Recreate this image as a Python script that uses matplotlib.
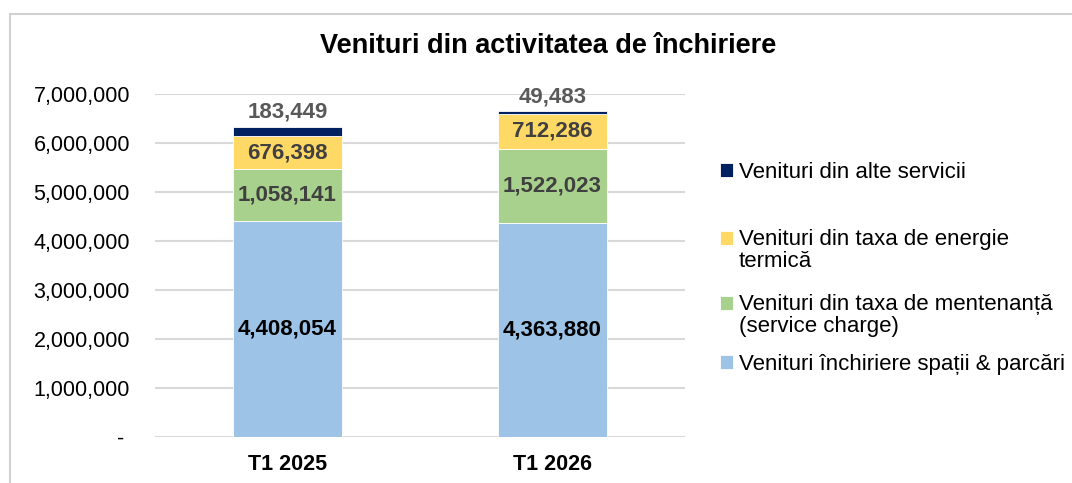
import matplotlib.pyplot as plt
from matplotlib.patches import Rectangle
from matplotlib.ticker import FuncFormatter
import numpy as np

plt.rcParams['font.family'] = ['Liberation Sans', 'DejaVu Sans']

periods = ['T1 2025', 'T1 2026']
inchiriere = [4408054, 4363880]
mentenanta = [1058141, 1522023]
energie = [676398, 712286]
alte = [183449, 49483]

series_names = ['Venituri închiriere spații & parcări',
                'Venituri din taxa de mentenanță\n(service charge)',
                'Venituri din taxa de energie\ntermică',
                'Venituri din alte servicii']
series_colors = ['#9DC3E6', '#A9D18E', '#FFD966', '#002060']
label_colors = ['black', '#404040', '#404040', '#595959']
yticks = [0, 1000000, 2000000, 3000000, 4000000, 5000000, 6000000, 7000000]


def fmt(v, pos):
    if v == 0:
        return '- '
    return '{:,.0f}'.format(v)


def main():
    W, H = 1072, 483
    fig = plt.figure(figsize=(W / 100, H / 100), dpi=100)
    ax = fig.add_axes([155 / W, 1 - 437 / H, 530 / W, 343 / H])

    # outer frame, cut off at right and bottom like the screenshot
    fig.patches.append(Rectangle((10 / W, -0.1), 1.2, 1 - 14 / H + 0.1,
                                 transform=fig.transFigure, fill=False,
                                 edgecolor='#D0D0D0', linewidth=1.5))

    x = np.arange(len(periods))
    data = [inchiriere, mentenanta, energie, alte]
    bottom = np.zeros(len(periods))
    handles = []
    for i, vals in enumerate(data):
        vals = np.array(vals, dtype=float)
        b = ax.bar(x, vals, width=0.415, bottom=bottom, color=series_colors[i],
                   edgecolor='white', linewidth=0.6, label=series_names[i], zorder=3)
        handles.append(b)
        for xi, v, bo in zip(x, vals, bottom):
            if i == 3:
                ax.annotate('{:,.0f}'.format(v), (xi, bo + v), xytext=(0, 3),
                            textcoords='offset points', ha='center', va='bottom',
                            fontsize=16, fontweight='bold', color=label_colors[i])
            else:
                ax.text(xi, bo + v / 2, '{:,.0f}'.format(v), ha='center', va='center',
                        fontsize=16, fontweight='bold', color=label_colors[i], zorder=4)
        bottom = bottom + vals

    ax.set_xlim(-0.5, 1.5)
    ax.set_ylim(0, 7000000)
    ax.set_yticks(yticks)
    ax.yaxis.set_major_formatter(FuncFormatter(fmt))
    ax.set_xticks(x)
    ax.set_xticklabels(periods, fontweight='bold')
    ax.tick_params(axis='both', length=0, labelsize=15.5)
    ax.tick_params(axis='y', pad=18)
    ax.tick_params(axis='x', pad=12)
    ax.yaxis.grid(color='#D9D9D9', linewidth=1.5, zorder=0)
    ax.set_axisbelow(True)
    for s in ax.spines.values():
        s.set_visible(False)

    fig.text(548 / W, 1 - 46 / H, 'Venituri din activitatea de închiriere',
             ha='center', va='center', fontsize=19.5, fontweight='bold')

    # one legend per entry, top series first, so the spacing can follow the original
    legend_tops = [162, 229, 294, 354]
    for k, i in enumerate(range(3, -1, -1)):
        leg = fig.legend([handles[i]], [series_names[i]], loc='upper left',
                         bbox_to_anchor=(720 / W, 1 - legend_tops[k] / H), frameon=False,
                         fontsize=16, handlelength=0.6, handleheight=0.6,
                         handletextpad=0.25, borderpad=0, borderaxespad=0)
        for t in leg.get_texts():
            t.set_linespacing(1.05)
        nlines = series_names[i].count('\n') + 1
        if nlines > 1:
            # put the square next to the first line, as Excel does
            for h in leg.legend_handles:
                h.set_y(h.get_y() + 0.5 * 1.05 * 16 * (nlines - 1) * 1.1)

    fig.savefig('out.png', dpi=100)


main()
